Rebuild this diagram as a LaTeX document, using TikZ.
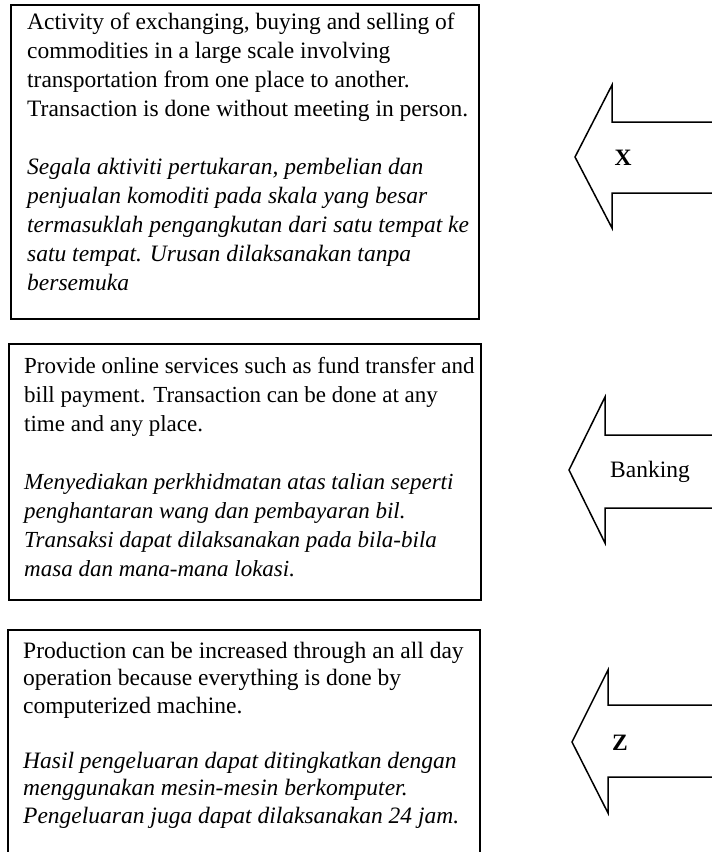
\documentclass[tikz,border=0pt]{standalone}
\usepackage{fontspec}
\setmainfont{Liberation Serif}
\begin{document}
\begin{tikzpicture}[x=1pt,y=-1pt,
  boxst/.style={draw=black, line width=1.5pt, anchor=north west, inner sep=0pt},
  txt/.style={anchor=north west, inner sep=0pt, align=left, font=\fontsize{23.5}{29}\selectfont},
  itxt/.style={txt, font=\fontsize{23.5}{29}\selectfont\itshape},
  arr/.style={draw=black, line width=1.5pt, line join=miter},
  lbl/.style={font=\fontsize{23.5}{28}\selectfont, inner sep=0pt}]
\useasboundingbox (0,0) rectangle (712,852);
\clip (0,0) rectangle (712,852);
% boxes
\node[boxst, minimum width=468pt, minimum height=314pt] (b1) at (10,4) {};
\node[boxst, minimum width=472pt, minimum height=256pt] (b2) at (8,343) {};
\node[boxst, minimum width=472pt, minimum height=240pt] (b3) at (7,629) {};
% box 1 text (baselines 29 + k*29)
\node[txt] (t1e) at (27,8.7) {\strut Activity of exchanging, buying and selling of\\commodities in a large scale involving\\transportation from one place to another.\\Transaction is done without meeting in person.};
\node[itxt] (t1m) at (27,153.7) {\strut Segala aktiviti pertukaran, pembelian dan\\penjualan komoditi pada skala yang besar\\termasuklah pengangkutan dari satu tempat ke\\satu tempat. Urusan dilaksanakan tanpa\\bersemuka};
% box 2 text
\node[txt, font=\fontsize{23}{29}\selectfont] (t2e) at (24,352.7) {\strut Provide online services such as fund transfer and\\bill payment. Transaction can be done at any\\time and any place.};
\node[itxt, font=\fontsize{23}{29}\selectfont\itshape] (t2m) at (24,468.7) {\strut Menyediakan perkhidmatan atas talian seperti\\penghantaran wang dan pembayaran bil.\\Transaksi dapat dilaksanakan pada bila-bila\\masa dan mana-mana lokasi.};
% box 3 text (baselines 658 + k*27.5)
\node[txt, font=\fontsize{23.5}{27.5}\selectfont] (t3e) at (23,638.75) {\strut Production can be increased through an all day\\operation because everything is done by\\computerized machine.};
\node[itxt, font=\fontsize{23.5}{27.5}\selectfont\itshape] (t3m) at (23,748.75) {\strut Hasil pengeluaran dapat ditingkatkan dengan\\menggunakan mesin-mesin berkomputer.\\Pengeluaran juga dapat dilaksanakan 24 jam.};
% arrows
\draw[arr] (720,122) -- (612,122) -- (612,85) -- (575,157) -- (612,228) -- (612,193) -- (720,193);
\draw[arr] (720,435) -- (605,435) -- (605,397) -- (569,470) -- (605,543) -- (605,508) -- (720,508);
\draw[arr] (720,705) -- (608,705) -- (608,670) -- (572,742) -- (608,813) -- (608,777) -- (720,777);
\node[lbl, font=\fontsize{23.5}{28}\selectfont\bfseries] (lx) at (623,158) {X};
\node[lbl] (lb) at (650,472) {Banking};
\node[lbl, font=\fontsize{23.5}{28}\selectfont\bfseries] (lz) at (620,743) {Z};
\end{tikzpicture}
\end{document}
